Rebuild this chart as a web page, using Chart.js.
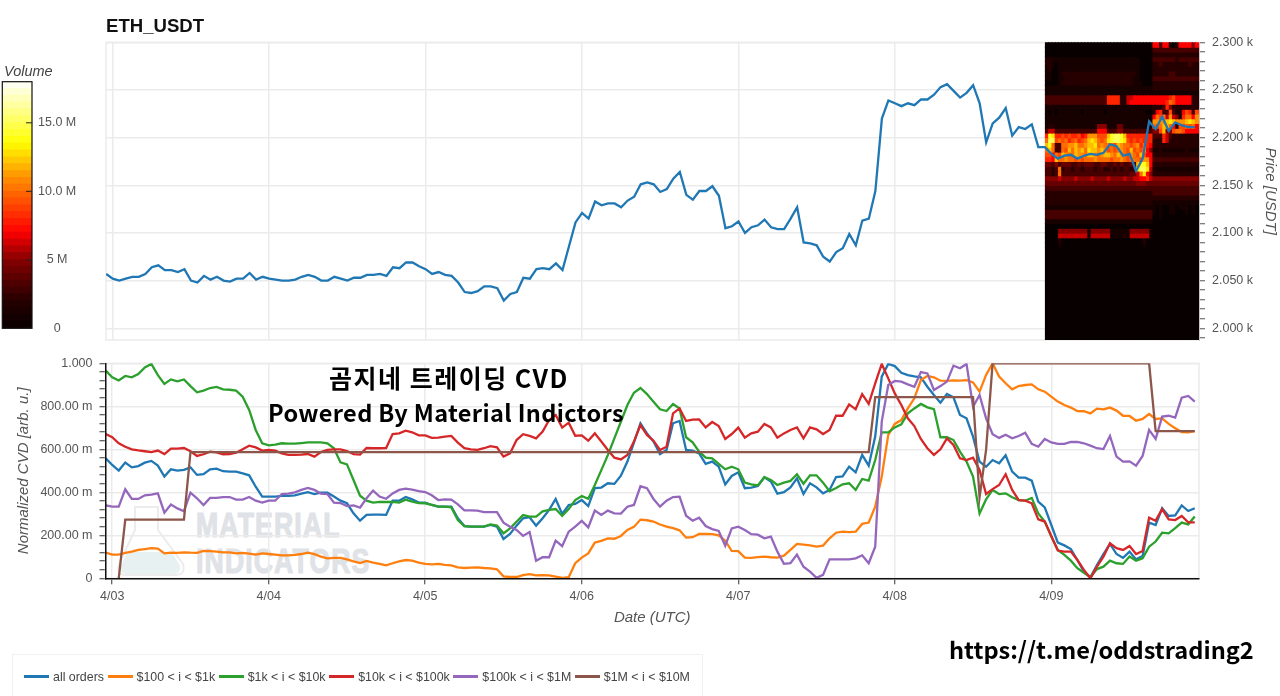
<!DOCTYPE html>
<html>
<head>
<meta charset="utf-8">
<title>ETH_USDT</title>
<script src="https://cdn.jsdelivr.net/npm/chart.js@4"></script>
<style>
  html, body { margin: 0; padding: 0; width: 1280px; height: 696px; overflow: hidden; background: #fff; font-family: "Liberation Sans", Arial, sans-serif; }
  canvas { position: absolute; left: 0; top: 0; }
  .txt { position: absolute; white-space: nowrap; }
  .stamp { font-family: "Noto Sans CJK KR", "Noto Sans", sans-serif; font-weight: 700; color: #000; z-index: 5; }
  .mark { font-family: "Liberation Sans", sans-serif; font-weight: 700; color: #dfe2e6; font-size: 35px; line-height: 35px; letter-spacing: 1.5px; -webkit-text-stroke: 1.2px #dfe2e6; transform: scaleX(0.76); transform-origin: left top; }
  #legend { position: absolute; left: 12px; top: 654px; width: 691px; height: 60px; border: 1px solid #f1f1f1; box-sizing: border-box; padding: 0 0 0 11px; display: flex; align-items: flex-start; font-size: 12.4px; color: #444; }
  #legend div { display: flex; align-items: center; height: 43px; }
  #legend i { display: block; width: 25px; height: 2.4px; margin: 0 4px 0 0; }
  #legend span { margin-right: 3.6px; }
</style>
</head>
<body>

<!-- watermark sits under the charts -->
<svg width="1280" height="696" style="position:absolute;left:0;top:0">
  <path d="M135 507 L135 530 L119 564 Q116 575 126 575 L175 575 Q186 575 183 564 L158 530 L158 507 Z" fill="none" stroke="#ececec" stroke-width="2"/>
  <path d="M127 552 L172 552 L180 566 Q181 574 174 574 L127 574 Q120 574 121 566 Z" fill="#e8f1f2"/>
</svg>
<div class="txt mark" style="left:196px;top:507px">MATERIAL</div>
<div class="txt mark" style="left:196px;top:543px">INDICATORS</div>

<canvas id="volumeBar" width="1280" height="696"></canvas>
<canvas id="priceChart" width="1280" height="696"></canvas>
<canvas id="cvdChart" width="1280" height="696"></canvas>

<div class="txt" style="left:106px;top:15px;font-weight:700;font-size:18.6px;color:#111">ETH_USDT</div>
<div class="txt" style="left:4px;top:63px;font-style:italic;font-size:14.5px;color:#444">Volume</div>
<div class="txt stamp" style="left:329px;top:360px;font-size:25px;line-height:34px;letter-spacing:1.5px">곰지네 트레이딩 CVD</div>
<div class="txt stamp" style="left:268px;top:395px;font-size:23.5px;line-height:34px;letter-spacing:0.36px">Powered By Material Indictors</div>
<div class="txt stamp" style="left:949px;top:632px;font-size:23.6px;line-height:34px">https://t.me/oddstrading2</div>

<div id="legend"></div>

<script>
// hours since 4/03 00:00 UTC, first sample is 4/02 23:00
var hours = [];
for (var h = -1; h <= 166; h++) hours.push(h);

var dayHours = [0, 24, 48, 72, 96, 120, 144];
var dayLabels = ['4/03', '4/04', '4/05', '4/06', '4/07', '4/08', '4/09'];
var seriesNames = ['all orders', '$100 < i < $1k', '$1k < i < $10k', '$10k < i < $100k', '$100k < i < $1M', '$1M < i < $10M'];
var seriesColors = ['#1f77b4', '#ff7f0e', '#2ca02c', '#d62728', '#9467bd', '#8c564b'];

var price = [2057,2052,2050,2052,2054,2054,2057,2064,2066,2061,2061,2059,2062,2050,2048,2055,2051,2054,2050,2049,2052,2052,2058,2051,2054,
  2052,2051,2050,2050,2051,2054,2056,2054,2050,2050,2054,2052,2050,2053,2053,2056,2056,2057,2055,2064,2063,2069,2069,2065,2062,
  2057,2059,2056,2055,2048,2038,2037,2039,2044,2044,2042,2029,2036,2038,2053,2052,2062,2063,2062,2068,2061,
  2086,2111,2121,2115,2133,2129,2131,2131,2127,2134,2138,2151,2153,2151,2143,2146,2157,2164,2140,2135,2144,2144,2149,2139,
  2105,2107,2112,2100,2106,2108,2114,2106,2104,2104,2115,2127,2090,2089,2087,2075,2070,2080,2084,2099,2087,2113,2115,2144,
  2220,2239,2236,2233,2236,2234,2240,2240,2245,2253,2256,2249,2242,2247,2255,2236,2195,2215,2221,2231,2202,2211,2209,2214,
  2190,2190,2183,2178,2181,2182,2178,2181,2183,2182,2184,2193,2191,2181,2183,2165,2178,2217,2209,2222,2207,2216,2213,2211,2211];

// normalized CVD, in milli units
var cvdAll = [558,527,501,538,516,522,538,546,524,473,507,501,504,516,481,484,507,510,498,496,496,488,479,426,380,
  380,380,383,383,386,394,401,392,398,398,380,361,349,302,268,295,296,296,295,361,361,378,367,352,352,
  341,333,333,333,279,243,240,240,240,248,240,183,206,245,279,284,245,279,318,369,299,341,346,364,336,
  420,422,442,439,477,543,631,721,674,636,578,597,721,732,597,594,581,532,543,519,437,476,493,419,422,
  429,470,450,394,401,423,465,392,442,423,395,411,471,474,519,
  493,574,524,659,938,997,987,956,945,939,935,891,853,817,857,842,760,744,659,543,519,550,535,572,496,
  468,468,454,357,330,248,166,153,136,85,31,5,62,113,160,113,95,124,88,104,259,248,326,290,293,339,313,326];

var cvd100 = [119,110,110,118,124,132,136,140,138,116,119,118,121,119,118,127,126,124,121,121,116,118,115,110,116,
  113,110,107,107,109,113,119,112,101,93,95,95,88,79,71,81,73,67,60,70,79,85,82,73,67,
  65,67,62,60,51,48,50,51,48,46,42,9,6,6,15,19,14,15,14,8,2,5,70,96,116,
  166,174,186,184,197,225,239,273,270,264,250,240,233,223,189,191,206,206,205,200,175,127,126,96,95,
  98,101,98,96,105,132,160,157,153,147,152,186,212,217,215,
  217,253,259,333,473,667,718,736,790,837,922,941,935,919,918,921,919,922,911,868,946,1000,938,907,879,
  894,899,902,879,868,845,822,806,794,778,777,767,789,786,794,780,756,755,733,741,764,741,744,718,698,680,679,685];

var cvd1k = [966,935,920,941,935,950,981,997,945,904,925,916,925,894,865,873,885,890,879,877,873,845,783,690,628,
  618,622,628,626,626,629,632,632,632,628,605,539,530,457,384,361,352,355,355,355,352,366,357,350,349,
  341,333,333,330,271,243,240,240,240,251,245,209,232,263,294,287,287,311,318,322,290,322,364,383,370,
  434,503,573,651,728,806,863,885,857,821,786,778,811,790,656,632,589,561,558,532,507,519,507,445,437,
  432,470,457,434,445,453,484,440,479,479,445,405,420,437,442,
  411,462,454,550,679,679,702,716,767,790,811,795,787,656,656,643,589,543,473,302,367,411,392,395,377,
  364,361,374,302,264,194,132,109,82,47,26,5,43,54,82,70,67,101,82,93,147,171,212,209,233,259,251,287];

var cvd10k = [671,656,628,612,600,595,591,587,594,578,603,603,606,591,569,577,589,586,577,578,584,600,617,609,594,
  597,594,581,574,574,575,578,566,587,597,600,600,592,578,575,606,605,605,606,671,674,687,679,665,665,
  653,654,659,662,631,605,600,597,605,615,609,566,581,643,670,662,651,682,736,760,701,724,663,665,640,
  674,636,597,561,553,574,636,713,667,640,597,612,767,790,732,738,739,702,727,708,648,671,701,654,674,
  682,718,702,654,674,690,702,651,702,693,671,690,756,756,809,
  786,857,811,907,997,930,860,806,744,708,648,605,574,600,651,620,558,550,561,504,392,415,434,484,411,
  364,361,349,274,264,197,129,124,124,85,39,0,54,101,163,140,132,150,113,127,282,268,322,274,271,290,260,260];

var cvd100k = [339,333,333,414,369,369,386,389,395,305,343,325,312,398,372,341,374,374,378,378,366,366,378,361,352,
  361,361,392,394,400,411,420,411,394,392,352,350,336,339,329,372,408,380,370,395,411,417,412,406,401,
  386,364,367,366,344,316,316,315,308,308,308,259,240,225,197,215,82,98,98,175,150,217,240,267,237,
  315,295,315,302,301,333,341,428,419,369,333,361,378,380,291,268,282,243,229,220,152,232,240,225,205,
  203,186,194,124,67,70,110,54,31,2,16,88,88,88,88,
  93,107,70,147,729,899,918,915,902,891,959,953,876,894,915,989,977,997,798,853,744,670,653,668,651,
  662,677,625,612,648,632,625,625,634,634,628,617,605,601,662,566,543,544,524,569,690,648,752,756,747,840,848,822];

var cvd1m = [null,null,0,273,273,273,273,273,273,273,273,273,273,587,587,587,587,587,587,587,587,587,587,587,587,
  587,587,587,587,587,587,587,587,587,587,587,587,587,587,587,587,587,587,587,587,587,587,587,587,587,
  587,587,587,587,587,587,587,587,587,587,587,587,587,587,587,587,587,587,587,587,587,587,587,587,587,
  587,587,587,587,587,587,587,587,587,587,587,587,587,587,587,587,587,587,587,587,587,587,587,587,587,
  587,587,587,587,587,587,587,587,587,587,587,587,587,587,587,
  587,587,587,843,843,843,843,843,843,843,843,843,843,843,843,843,843,843,843,377,597,1000,1000,1000,1000,
  1000,1000,1000,1000,1000,1000,1000,1000,1000,1000,1000,1000,1000,1000,1000,1000,1000,1000,1000,1000,1000,685,685,685,685,685,685,685,685];

// order book heat map: one row per price band, one char per half hour, value in millions (base 36)
var heatFirstHour = 143.35;
var heatTops = [2300,2295,2290,2285,2280,2275,2270,2265,2260,2255,2250,2245,2240,2235,2230,2225,2220,2215,2210,2205,2200,2195,
  2190,2185,2180,2175,2170,2165,2160,2155,2150,2145,2140,2135,2130,2125,2120,2115,2110,2105,2100,2095,2090,2085];
var heatBottom = 1987.7;
var heatRows = [
  '000000000000000000000000000000000' + '77377102777757',
  '000000000000000000000000000000000' + '33333333333333',
  '000000000000000000000000000000000' + '22222222222222',
  '221111111111111111111111111110000' + '33333332333333',
  '221011111111111111111111111110000' + '22322222222322',
  '120011111111111111111111111110000' + '22222222222222',
  '110012222222222222222222222210000' + '22222332222222',
  '110011222222222222222222222110000' + '33333333333333',
  '000012222222222222222222222111000' + '22222222222222',
  '111111111111111111111111111111111' + '22222222222222',
  '111111111111111111111111111111111' + '11111111111111',
  '333333333333333333388882266777777' + '77777897777722',
  '333333333333333333388882267777777' + '77778a97777722',
  '111111111111111111111111111111111' + '22238522222222',
  '101011111110111111011111111111100' + '27833931179839',
  '111111111111111111111111111111110' + '7a9a6b6518aa7b',
  '111111111111111111111111111111111' + 'bbbbcdcbbbcdcb',
  '122111111111111155511144111111111' + 'a9acca7299a9a7',
  '366333333333333377733355333333333' + '559c559aa97777',
  '8ed8898988978bbb999ceffec88888888' + '33386322222222',
  'aff9a9a89a89acdca9adeffed98989888' + '22286222222222',
  'cea33aabbcaabccdabaaa9cbaa9ab8a87' + '22222222222222',
  'aca33a9cacbcadccbcb9a9aba9c9a9b75' + '11211111112111',
  '997a9cbaacbbaccbabccbacba9ba9c977' + '22222222222222',
  '887caabaa9a9aaabaaaa9aaba9aaa9bb7' + '33333333333333',
  '4435344433434443344334343343ceec7' + '22222222222222',
  '3323a23323323332332232323323dffd6' + '11111111111111',
  '3323a333333333333333333333446ad75' + '22222222222222',
  '555565555655556555565555655667786' + '55555555555555',
  '444444444444444444444444444455544' + '44444444444444',
  '333333333333333333333333333333333' + '33333333333333',
  '222222222222222222222222222222222' + '33333333333333',
  '222222222222222222222222222222222' + '22222222222222',
  '222222222222222222222222222222222' + '11111111111111',
  '111111111111111111111111111111111' + '10100110111010',
  '333333333333333333333333333333333' + '10100110001010',
  '333333333333333333333333333333333' + '00100000000000',
  '111111111111111111111111111111111' + '00000000000000',
  '000000000000000000000000000000000' + '00000000000000',
  '000055555555515555551111115555551' + '00000000000000',
  '000066666666616666661111216666661' + '00000000000000',
  '000020000000000000000000000000200' + '00000000000000',
  '000010000000000000000000000000100' + '00000000000000',
  '000000000000000000000000000000000' + '00000000000000'
];

// colormap stops, value in millions
var heatStops = [[0, 8, 0, 0], [2, 38, 0, 0], [5, 135, 0, 0], [7, 255, 0, 0], [9.5, 255, 90, 0], [11, 255, 145, 0], [13.5, 255, 255, 0], [15, 255, 255, 90], [18, 255, 255, 255]];

function heatColor(v) {
  for (var i = 1; i < heatStops.length; i++) {
    if (v <= heatStops[i][0]) {
      var a = heatStops[i - 1], b = heatStops[i];
      var t = (v - a[0]) / (b[0] - a[0]);
      return 'rgb(' + [1, 2, 3].map(function (k) { return Math.round(a[k] + (b[k] - a[k]) * t); }).join(',') + ')';
    }
  }
  return '#fff';
}

function outlinePlugin(color, width, onTop) {
  return {
    id: 'outline',
    [onTop ? 'afterDatasetsDraw' : 'beforeDatasetsDraw']: function (chart) {
      var a = chart.chartArea, c = chart.ctx;
      c.save();
      c.strokeStyle = color;
      c.lineWidth = width;
      c.strokeRect(a.left, a.top, a.right - a.left, a.bottom - a.top);
      c.restore();
    }
  };
}

// day ticks, the linear scale would otherwise start counting from its min
function useDayTicks(scale) {
  scale.ticks = dayHours.map(function (value) { return { value: value }; });
}

var gridColor = '#ebebeb';
var labelFont = { family: '"Liberation Sans", Arial, sans-serif', size: 12.5 };
var titleFont = { family: '"Liberation Sans", Arial, sans-serif', size: 15, style: 'italic' };
var hourMin = -1.03, hourMax = 166.65;

Chart.defaults.animation = false;
Chart.defaults.responsive = false;
Chart.defaults.devicePixelRatio = 1;
Chart.defaults.plugins.legend.display = false;
Chart.defaults.plugins.tooltip.enabled = false;

// top panel: price line over heat map
var priceSets = [{
  type: 'line',
  label: 'price',
  data: hours.map(function (x, i) { return { x: x, y: price[i] }; }),
  borderColor: seriesColors[0],
  borderWidth: 2.3,
  pointRadius: 0,
  tension: 0,
  order: 0
}];
heatRows.forEach(function (row, r) {
  var lo = r + 1 < heatTops.length ? heatTops[r + 1] : heatBottom;
  var vals = row.split('').map(function (ch) { return parseInt(ch, 36); });
  priceSets.push({
    type: 'bar',
    label: 'band ' + heatTops[r],
    data: vals.map(function (v, c) { return { x: heatFirstHour + c * 0.5, y: [lo, heatTops[r]] }; }),
    backgroundColor: vals.map(heatColor),
    borderWidth: 0,
    inflateAmount: 0.6,
    grouped: false,
    barPercentage: 1,
    categoryPercentage: 1,
    order: 1
  });
});

new Chart(document.getElementById('priceChart'), {
  type: 'line',
  data: { datasets: priceSets },
  plugins: [outlinePlugin(gridColor, 1.5, false)],
  options: {
    layout: { padding: { left: 106, right: 0, top: 42.3, bottom: 356 } },
    scales: {
      x: {
        type: 'linear', min: hourMin, max: hourMax, offset: false,
        afterBuildTicks: useDayTicks,
        ticks: { display: false },
        border: { display: false },
        grid: { color: gridColor, lineWidth: 1.5, drawTicks: false, offset: false },
        afterFit: function (s) { s.height = 0; }
      },
      y: {
        type: 'linear', position: 'right', min: 1987.7, max: 2300,
        ticks: {
          stepSize: 10, includeBounds: false, autoSkip: false, padding: 7, color: '#555', font: labelFont,
          callback: function (v) { return v % 50 === 0 ? (v / 1000).toFixed(3) + ' k' : ''; }
        },
        border: { color: '#555', width: 1 },
        grid: {
          tickLength: 6, tickColor: '#555', tickWidth: 1, lineWidth: 1.5,
          color: function (ctx) { return ctx.tick && ctx.tick.value % 50 === 0 ? gridColor : 'rgba(0,0,0,0)'; }
        },
        title: { display: true, text: 'Price [USDT]', color: '#555', font: titleFont, padding: { top: 1, bottom: 0 } },
        afterFit: function (s) { s.width = 81; }
      }
    }
  }
});

// bottom panel: normalized CVD per order size
var cvdLists = [cvdAll, cvd100, cvd1k, cvd10k, cvd100k, cvd1m];
new Chart(document.getElementById('cvdChart'), {
  type: 'line',
  data: {
    datasets: cvdLists.map(function (list, i) {
      return {
        label: seriesNames[i],
        data: hours.map(function (x, k) { return { x: x, y: list[k] }; }),
        borderColor: seriesColors[i],
        borderWidth: 2.3,
        pointRadius: 0,
        tension: 0,
        order: 6 - i
      };
    })
  },
  plugins: [outlinePlugin(gridColor, 1.5, false)],
  options: {
    layout: { padding: { left: 0, right: 81, top: 363.3, bottom: 68.7 } },
    scales: {
      x: {
        type: 'linear', min: hourMin, max: hourMax,
        afterBuildTicks: useDayTicks,
        ticks: {
          autoSkip: false, maxRotation: 0, padding: 5, color: '#555', font: labelFont,
          callback: function (v) { return dayLabels[dayHours.indexOf(v)]; }
        },
        border: { color: '#111', width: 1.5, z: 1 },
        grid: { color: gridColor, lineWidth: 1.5, tickLength: 6, tickColor: '#333', tickWidth: 1 },
        title: { display: true, text: 'Date (UTC)', color: '#555', font: titleFont, padding: 0 },
        afterFit: function (s) { s.height = 49; }
      },
      y: {
        type: 'linear', min: 0, max: 1000,
        ticks: {
          stepSize: 40, autoSkip: false, padding: 7, color: '#555', font: labelFont,
          callback: function (v) {
            if (v === 0) return '0';
            if (v === 1000) return '1.000';
            return v % 200 === 0 ? v.toFixed(2) + ' m' : '';
          }
        },
        border: { color: '#111', width: 1.5, z: 1 },
        grid: {
          tickLength: 6, tickColor: '#333', tickWidth: 1, lineWidth: 1.5,
          color: function (ctx) { return ctx.tick && ctx.tick.value % 200 === 0 ? gridColor : 'rgba(0,0,0,0)'; }
        },
        title: { display: true, text: 'Normalized CVD [arb. u.]', color: '#555', font: titleFont, padding: { top: 15, bottom: 0 } },
        afterFit: function (s) { s.width = 105.5; }
      }
    }
  }
});

// colour bar at the far left
var barSteps = [];
for (var v = 0; v < 18; v += 0.5) barSteps.push(v);
new Chart(document.getElementById('volumeBar'), {
  type: 'bar',
  data: {
    labels: ['Volume'],
    datasets: barSteps.map(function (lo) {
      return {
        data: [[lo, lo + 0.5]],
        backgroundColor: heatColor(lo + 0.25),
        borderWidth: 0,
        inflateAmount: 0.6,
        grouped: false,
        barPercentage: 1,
        categoryPercentage: 1
      };
    })
  },
  plugins: [outlinePlugin('#111', 1.2, true), {
    id: 'innerTicks',
    afterDraw: function (chart) {
      var c = chart.ctx, y = chart.scales.y, a = chart.chartArea;
      c.save();
      c.strokeStyle = '#222';
      y.ticks.forEach(function (t) {
        var py = y.getPixelForValue(t.value);
        c.beginPath();
        c.moveTo(a.right - 6, py);
        c.lineTo(a.right, py);
        c.stroke();
      });
      c.restore();
    }
  }],
  options: {
    layout: { padding: { left: 2.3, right: 1188, top: 81.7, bottom: 367.7 } },
    scales: {
      x: { display: false },
      y: {
        position: 'right', min: 0, max: 18,
        ticks: {
          stepSize: 5, includeBounds: false, crossAlign: 'center', padding: 6, color: '#555', font: labelFont,
          callback: function (v) { return v === 0 ? '0' : v === 5 ? '5 M' : v.toFixed(1) + ' M'; }
        },
        border: { display: false },
        grid: { display: false, drawTicks: false, tickLength: 0 },
        afterFit: function (s) { s.width = 60; }
      }
    }
  }
});

// legend is plain html, same as the boxed one under the chart
var legend = document.getElementById('legend');
seriesNames.forEach(function (name, i) {
  var item = document.createElement('div');
  var line = document.createElement('i');
  line.style.background = seriesColors[i];
  var text = document.createElement('span');
  text.textContent = name;
  item.appendChild(line);
  item.appendChild(text);
  legend.appendChild(item);
});
</script>
</body>
</html>
